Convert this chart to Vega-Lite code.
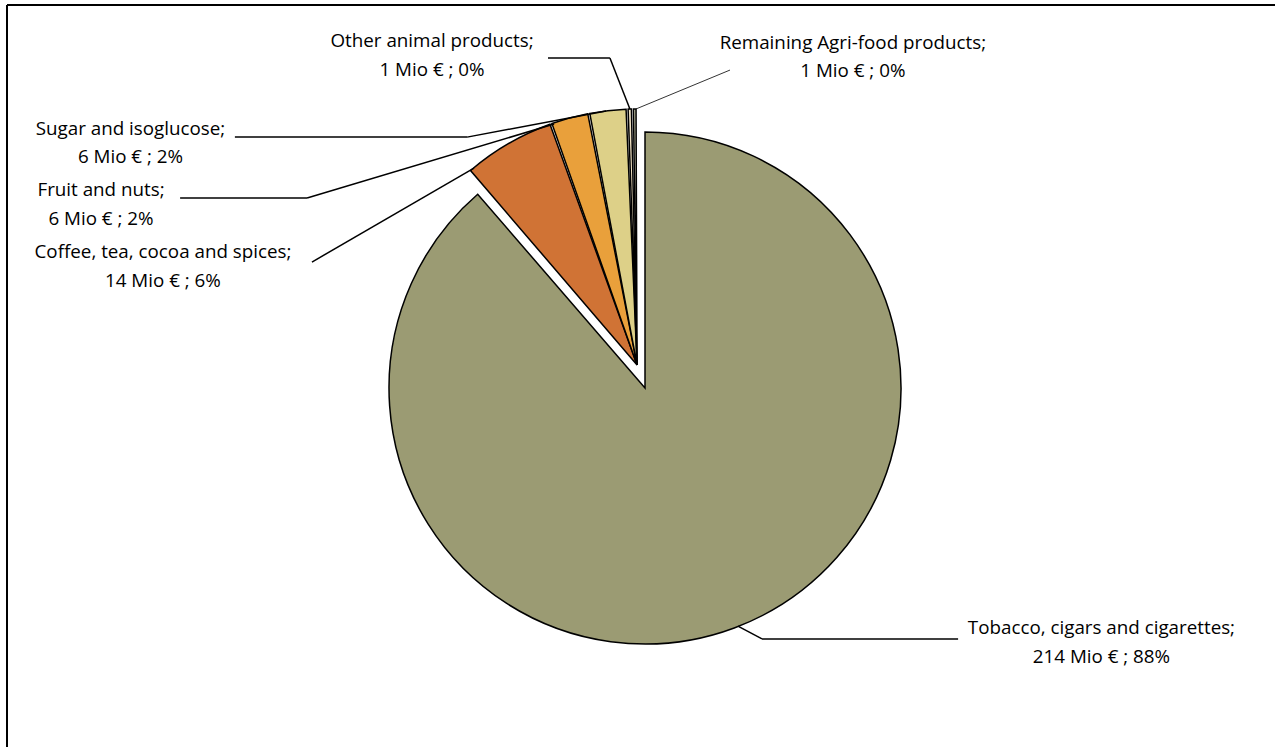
{
  "$schema": "https://vega.github.io/schema/vega-lite/v6.json",
  "width": 1268,
  "height": 742,
  "autosize": {"type": "none"},
  "padding": {"left": 7, "top": 5, "right": 0, "bottom": 0},
  "background": "white",
  "config": {
    "view": {"stroke": null},
    "text": {"font": "Open Sans", "fontSize": 18.8, "color": "black"}
  },
  "datasets": {
    "slices": [
      {"category": "Tobacco, cigars and cigarettes", "value": 214.3, "rank": 1},
      {"category": "Coffee, tea, cocoa and spices", "value": 14.2, "rank": 2},
      {"category": "Fruit and nuts", "value": 5.9, "rank": 3},
      {"category": "Sugar and isoglucose", "value": 5.8, "rank": 4},
      {"category": "Other animal products", "value": 0.8, "rank": 5},
      {"category": "Remaining Agri-food products", "value": 0.7, "rank": 6}
    ],
    "callouts": [
      {"category": "Tobacco, cigars and cigarettes", "label": "Tobacco, cigars and cigarettes;\n214 Mio € ; 88%", "lx": 1.783, "ly": -0.9375},
      {"category": "Coffee, tea, cocoa and spices", "label": "Coffee, tea, cocoa and spices;\n14 Mio € ; 6%", "lx": -1.883, "ly": 0.531},
      {"category": "Fruit and nuts", "label": "Fruit and nuts;\n6 Mio € ; 2%", "lx": -2.125, "ly": 0.773},
      {"category": "Sugar and isoglucose", "label": "Sugar and isoglucose;\n6 Mio € ; 2%", "lx": -2.01, "ly": 1.012},
      {"category": "Other animal products", "label": "Other animal products;\n1 Mio € ; 0%", "lx": -0.832, "ly": 1.355},
      {"category": "Remaining Agri-food products", "label": "Remaining Agri-food products;\n1 Mio € ; 0%", "lx": 0.812, "ly": 1.348}
    ],
    "leaders": [
      {"category": "Tobacco, cigars and cigarettes", "x1": 0.363, "y1": -0.93, "x2": 0.457, "y2": -0.98, "w": 1.5},
      {"category": "Tobacco, cigars and cigarettes", "x1": 0.457, "y1": -0.98, "x2": 1.223, "y2": -0.98, "w": 1.5},
      {"category": "Coffee, tea, cocoa and spices", "x1": -1.301, "y1": 0.492, "x2": -0.668, "y2": 0.859, "w": 1.5},
      {"category": "Fruit and nuts", "x1": -1.816, "y1": 0.742, "x2": -1.32, "y2": 0.742, "w": 1.5},
      {"category": "Fruit and nuts", "x1": -1.32, "y1": 0.742, "x2": -0.355, "y2": 1.031, "w": 1.5},
      {"category": "Sugar and isoglucose", "x1": -1.602, "y1": 0.98, "x2": -0.695, "y2": 0.98, "w": 1.5},
      {"category": "Sugar and isoglucose", "x1": -0.695, "y1": 0.98, "x2": -0.152, "y2": 1.082, "w": 1.5},
      {"category": "Other animal products", "x1": -0.379, "y1": 1.289, "x2": -0.137, "y2": 1.289, "w": 1.5},
      {"category": "Other animal products", "x1": -0.137, "y1": 1.289, "x2": -0.059, "y2": 1.09, "w": 1.5},
      {"category": "Remaining Agri-food products", "x1": 0.332, "y1": 1.242, "x2": -0.035, "y2": 1.09, "w": 0.8}
    ]
  },
  "layer": [
    {
      "data": {"name": "slices"},
      "mark": {"type": "arc", "radius": 256, "stroke": "black", "strokeWidth": 1.5},
      "encoding": {
        "x": {"datum": 0, "type": "quantitative", "scale": {"domain": [-2.4922, 2.4609], "nice": false, "zero": false}, "axis": null},
        "y": {"datum": 0, "type": "quantitative", "scale": {"domain": [-1.4023, 1.4961], "nice": false, "zero": false}, "axis": null},
        "theta": {"field": "value", "type": "quantitative", "stack": true},
        "order": {"field": "rank", "type": "quantitative"},
        "color": {
          "field": "category", "type": "nominal", "legend": null,
          "scale": {
            "domain": ["Tobacco, cigars and cigarettes", "Coffee, tea, cocoa and spices", "Fruit and nuts", "Sugar and isoglucose", "Other animal products", "Remaining Agri-food products"],
            "range": ["#9B9B73", "#D07335", "#E9A03B", "#DDD088", "#F3E4C3", "#C4C4A6"]
          }
        },
        "opacity": {"condition": {"test": "datum.category === 'Tobacco, cigars and cigarettes'", "value": 1}, "value": 0}
      }
    },
    {
      "data": {"name": "slices"},
      "mark": {"type": "arc", "radius": 256, "stroke": "black", "strokeWidth": 1.5, "padAngle": 0.008},
      "encoding": {
        "x": {"datum": -0.031, "type": "quantitative", "scale": {"domain": [-2.4922, 2.4609], "nice": false, "zero": false}, "axis": null},
        "y": {"datum": 0.09, "type": "quantitative", "scale": {"domain": [-1.4023, 1.4961], "nice": false, "zero": false}, "axis": null},
        "theta": {"field": "value", "type": "quantitative", "stack": true},
        "order": {"field": "rank", "type": "quantitative"},
        "color": {"field": "category", "type": "nominal", "legend": null},
        "opacity": {"condition": {"test": "datum.category === 'Tobacco, cigars and cigarettes'", "value": 0}, "value": 1}
      }
    },
    {
      "data": {"name": "leaders"},
      "mark": {"type": "rule", "color": "black"},
      "encoding": {
        "x": {"field": "x1", "type": "quantitative", "scale": {"domain": [-2.4922, 2.4609], "nice": false, "zero": false}, "axis": null},
        "y": {"field": "y1", "type": "quantitative", "scale": {"domain": [-1.4023, 1.4961], "nice": false, "zero": false}, "axis": null},
        "x2": {"field": "x2"},
        "y2": {"field": "y2"},
        "strokeWidth": {"field": "w", "type": "quantitative", "scale": null, "legend": null}
      }
    },
    {
      "data": {"name": "callouts"},
      "mark": {"type": "text", "align": "center", "baseline": "middle", "lineBreak": "\n", "lineHeight": 28.5},
      "encoding": {
        "x": {"field": "lx", "type": "quantitative", "scale": {"domain": [-2.4922, 2.4609], "nice": false, "zero": false}, "axis": null},
        "y": {"field": "ly", "type": "quantitative", "scale": {"domain": [-1.4023, 1.4961], "nice": false, "zero": false}, "axis": null},
        "text": {"field": "label"}
      }
    },
    {
      "data": {"values": [{"frame": "left"}]},
      "mark": {"type": "rule", "color": "black", "strokeWidth": 2},
      "encoding": {
        "x": {"datum": -2.4922, "type": "quantitative", "scale": {"domain": [-2.4922, 2.4609], "nice": false, "zero": false}, "axis": null}
      }
    },
    {
      "data": {"values": [{"frame": "top"}]},
      "mark": {"type": "rule", "color": "black", "strokeWidth": 2},
      "encoding": {
        "y": {"datum": 1.4961, "type": "quantitative", "scale": {"domain": [-1.4023, 1.4961], "nice": false, "zero": false}, "axis": null}
      }
    }
  ]
}
